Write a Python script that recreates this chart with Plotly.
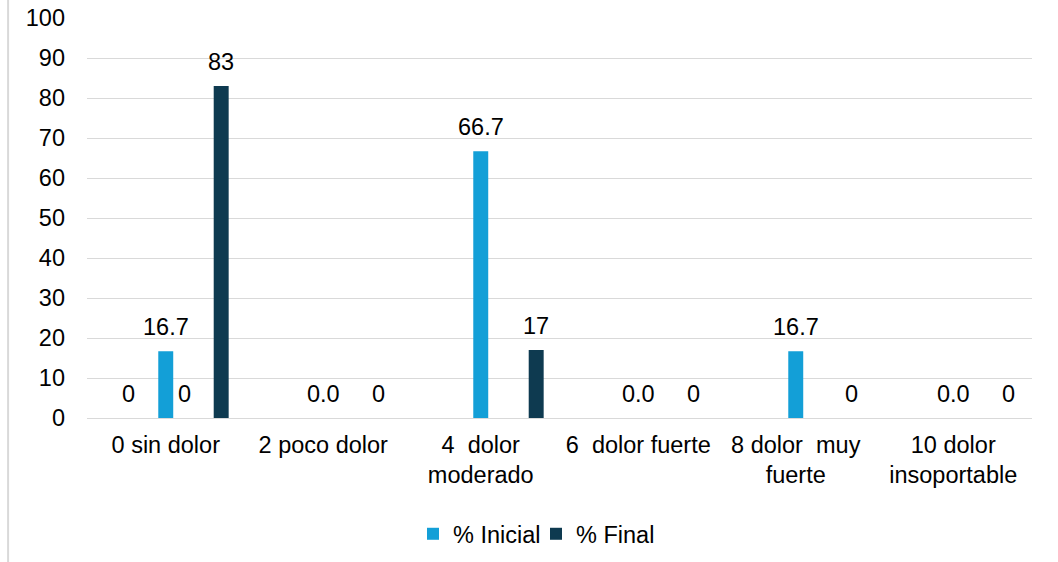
import plotly.graph_objects as go

categories = ["0 sin dolor", "2 poco dolor", "4\u00a0\u00a0dolor<br>moderado",
              "6\u00a0\u00a0dolor fuerte", "8 dolor\u00a0\u00a0muy<br>fuerte",
              "10 dolor<br>insoportable"]
inicial = [16.7, 0, 66.7, 0, 16.7, 0]
final = [83, 0, 17, 0, 0, 0]
inicial_labels = ["16.7", "0.0", "66.7", "0.0", "16.7", "0.0"]
final_labels = ["83", "0", "17", "0", "0", "0"]
# two extra unnamed series with labels only in the first category
extra_a = [0, None, None, None, None, None]
extra_b = [0, None, None, None, None, None]
extra_labels = ["0", "", "", "", "", ""]

c_ini = "#139FD7"
c_fin = "#0E3A50"
grid = "#D9D9D9"
font = "Liberation Sans, Arial, sans-serif"
fs = 23.5

idx = list(range(len(categories)))
off = {"a": -0.236, "ini": 0.0, "b": 0.117, "fin": 0.352}
bw = 0.095

fig = go.Figure()
fig.add_trace(go.Bar(x=[i + off["ini"] for i in idx], y=inicial, width=bw,
                     marker=dict(color=c_ini, line=dict(width=0)), name="% Inicial"))
fig.add_trace(go.Bar(x=[i + off["fin"] for i in idx], y=final, width=bw,
                     marker=dict(color=c_fin, line=dict(width=0)), name="% Final"))

ann = []
def add_labels(vals, labels, o):
    for i, (v, t) in enumerate(zip(vals, labels)):
        if v is None or t == "":
            continue
        ann.append(dict(x=i + o, y=v, text=t, showarrow=False, yshift=24,
                        xanchor="center", yanchor="middle",
                        font=dict(family=font, size=fs, color="#000000")))

add_labels(inicial, inicial_labels, off["ini"])
add_labels(final, final_labels, off["fin"])
add_labels(extra_a, extra_labels, off["a"])
add_labels(extra_b, extra_labels, off["b"])

fig.update_layout(
    width=1058, height=562,
    margin=dict(l=87, r=26, t=18, b=144, autoexpand=False),
    paper_bgcolor="white", plot_bgcolor="white",
    barmode="overlay",
    font=dict(family=font, size=fs, color="#000000"),
    annotations=ann,
    showlegend=True,
    legend=dict(orientation="h", x=(413 - 87) / 945, xanchor="left", y=-0.29, yanchor="middle",
                font=dict(family=font, size=fs, color="#000000"),
                entrywidth=78, entrywidthmode="pixels",
                itemclick=False),
    xaxis=dict(range=[-0.5, 5.5], tickmode="array", tickvals=idx, ticktext=categories,
               showgrid=False, zeroline=False, showline=False, ticks="",
               automargin=False, ticklabelstandoff=10,
               tickfont=dict(family=font, size=fs, color="#000000")),
    yaxis=dict(range=[0, 100], dtick=10, showgrid=True, gridcolor=grid, gridwidth=1.3,
               zeroline=True, zerolinecolor=grid, zerolinewidth=1.3, showline=False,
               ticks="", automargin=False, tickfont=dict(family=font, size=fs, color="#000000"),
               ticklabelstandoff=21),
    shapes=[dict(type="line", xref="paper", yref="paper", x0=-0.0835, x1=-0.0835,
                 y0=-0.40, y1=1.05, line=dict(color=grid, width=2))],
)

fig.write_html("out.html")
